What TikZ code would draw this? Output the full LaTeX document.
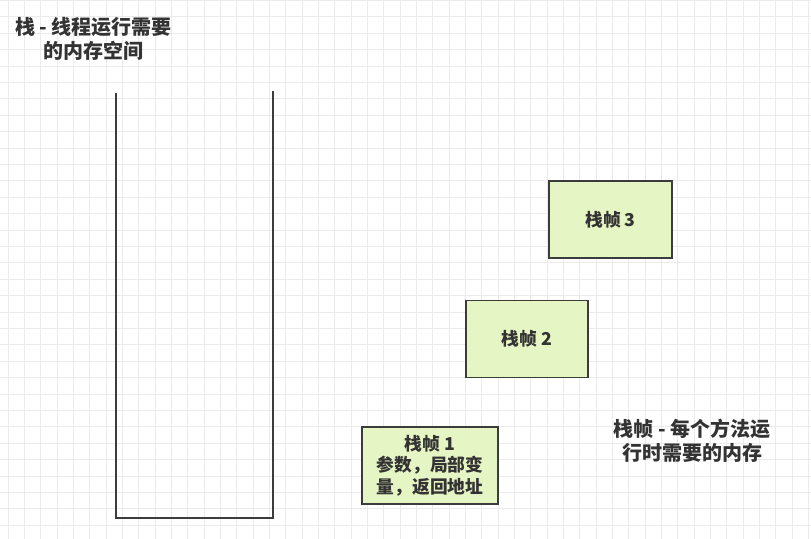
\documentclass[tikz,border=0pt]{standalone}
\usepackage{fontspec}
\usepackage{xcolor}
\usepackage{tikz}
\newfontfamily\cjk{Noto Sans CJK SC}
\definecolor{framefill}{HTML}{E6F5C4}
\definecolor{boxline}{HTML}{3C3C3C}
\definecolor{inkgray}{HTML}{333333}
\definecolor{gridgray}{HTML}{EBEBEB}
\tikzstyle{gridline} = [draw=gridgray, line width=0.75pt]
\tikzstyle{stackwall} = [draw=boxline, line width=1.4pt]
\tikzstyle{frame} = [rectangle, minimum height=57.75pt, text centered, align=center, inner sep=0pt, draw=boxline, line width=1.4pt, fill=framefill, text=inkgray, font=\cjk\bfseries\fontsize{13.3}{16}\selectfont]
\tikzstyle{note} = [align=center, inner sep=0pt, text=inkgray, font=\cjk\bfseries\fontsize{15}{18}\selectfont]

\begin{document}
\begin{tikzpicture}[x=0.75pt, y=-0.75pt]
      \useasboundingbox (0,0) rectangle (811,539);
      \fill[white] (0,0) rectangle (811,539);
      % background grid
      \foreach \gx in {0,...,49} \draw[gridline] ({8.3+16.33*\gx},0) -- ++(0,539);
      \foreach \gy in {0,...,32} \draw[gridline] (0,{0.5+16.4*\gy}) -- ++(811,0);
      % the stack
      \coordinate (stacktl) at (116,93);
      \coordinate (stackbl) at (116,518);
      \coordinate (stackbr) at (273,518);
      \coordinate (stacktr) at (273,91);
      \draw[stackwall] (stacktl) -- (stackbl) -- (stackbr) -- (stacktr);
      \node (stacknote) [note] at (93.5,39) {栈 - 线程运行需要\\的内存空间};
      % frames
      \node (frame3) [frame, minimum width=92.25pt] at (610.5,219.5) {栈帧 3};
      \node (frame2) [frame, minimum width=91.5pt] at (527,339) {栈帧 2};
      \node (frame1) [frame, minimum width=102pt] at (430,465.5) {栈帧 1\\参数，局部变\\量，返回地址};
      \node (framenote) [note] at (692,441) {栈帧 - 每个方法运\\行时需要的内存};
\end{tikzpicture}
\end{document}
